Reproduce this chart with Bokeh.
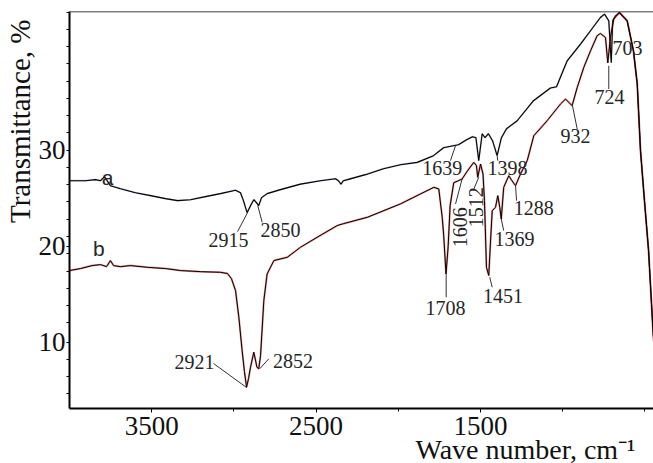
import math
from bokeh.plotting import figure
from bokeh.models import Range1d, FixedTicker, Span, Title
from bokeh.core.properties import value
from bokeh.embed import file_html
from bokeh.resources import INLINE

# ---- data (wave number, cm-1 / transmittance, %) ----
tail_wn = [655, 608, 570, 547, 527, 503, 478, 450, 436]
tail_t = [44.35, 43.49, 40.36, 36.93, 29.95, 24.74, 19.53, 10.89, 8.07]

a_wn = [4000, 3903, 3842, 3811, 3787, 3751, 3690, 3599, 3507, 3416, 3343, 3264, 3173, 3082,
        2990, 2960, 2942, 2920, 2899, 2879, 2863, 2849, 2832, 2798, 2717, 2595, 2473, 2382,
        2364, 2349, 2334, 2309, 2200, 2090, 1987, 1885, 1786, 1725, 1665, 1634, 1585, 1549,
        1528, 1511, 1490, 1473, 1452, 1427, 1399, 1373, 1342, 1277, 1178, 1075, 1038, 973,
        892, 831, 771, 746, 720, 705, 696, 679] + tail_wn
a_t = [26.82, 26.82, 26.93, 26.82, 27.24, 26.30, 25.99, 25.57, 25.26, 24.95, 24.74, 24.84,
       25.16, 25.47, 25.83, 25.57, 24.74, 23.49, 24.22, 24.84, 24.53, 24.22, 25.05, 25.47,
       25.89, 26.46, 26.82, 27.03, 26.82, 26.46, 26.82, 26.93, 27.45, 28.07, 28.49, 28.73,
       29.43, 30.26, 30.47, 30.57, 31.09, 31.41, 31.30, 28.91, 31.72, 31.30, 31.72, 30.99,
       29.43, 31.30, 32.24, 33.07, 35.16, 36.48, 36.61, 39.32, 41.06, 42.45, 43.83, 44.19,
       43.49, 39.11, 43.49, 44.01] + tail_t

b_wn = [4000, 3933, 3862, 3811, 3775, 3751, 3732, 3690, 3629, 3527, 3416, 3325, 3203, 3082,
        3039, 3015, 2990, 2970, 2950, 2936, 2923, 2911, 2899, 2879, 2860, 2849, 2838, 2818,
        2798, 2757, 2676, 2595, 2494, 2372, 2334, 2189, 1987, 1865, 1784, 1754, 1733, 1724,
        1710, 1697, 1685, 1663, 1634, 1612, 1579, 1541, 1525, 1517, 1500, 1485, 1476, 1464,
        1450, 1440, 1429, 1409, 1395, 1383, 1374, 1359, 1328, 1309, 1287, 1257, 1216, 1176,
        1095, 1014, 983, 943, 912, 872, 831, 791, 771, 740, 726, 710, 690] + tail_wn
b_t = [17.45, 17.66, 17.97, 18.07, 17.86, 18.49, 17.97, 17.86, 17.97, 17.79, 17.66, 17.45,
       17.34, 17.27, 17.14, 16.61, 15.36, 12.58, 9.11, 6.93, 5.29, 6.20, 7.38, 8.94, 7.38,
       7.21, 8.59, 14.32, 17.10, 18.49, 18.83, 19.88, 20.92, 22.14, 22.34, 23.00, 24.40,
       25.44, 26.13, 25.96, 23.00, 21.09, 17.10, 19.95, 24.22, 26.61, 26.82, 27.00, 27.86,
       28.73, 28.39, 27.17, 28.56, 27.52, 24.74, 17.79, 16.93, 20.23, 23.70, 24.04, 25.26,
       24.04, 22.83, 26.13, 27.34, 26.82, 26.30, 27.52, 28.91, 31.51, 33.07, 34.81, 35.33,
       34.64, 36.54, 38.63, 40.36, 41.93, 42.17, 41.75, 39.11, 41.75, 43.67] + tail_t

# peak labels (horizontal)
peak_text = ["2915", "2850", "2921", "2852", "1639", "1398", "1369", "1288", "1451", "1708",
             "932", "724", "703"]
peak_x = [3033, 2717, 3240, 2641, 1733, 1336, 1294, 1176, 1363, 1713, 922, 716, 606]
peak_y = [20.63, 21.72, 7.92, 8.07, 28.13, 28.13, 20.75, 23.96, 14.76, 13.59, 31.51, 35.57, 40.63]
# peak labels (vertical)
vpeak_text = ["1606", "1512"]
vpeak_x = [1622, 1526]
vpeak_y = [21.96, 24.04]
# leader lines
lead_x0 = [2978, 2828, 3124, 2788, 1683, 1399, 1652, 1545, 1359, 1281, 1444, 1709, 943, 720]
lead_y0 = [21.51, 22.48, 7.76, 8.25, 28.91, 29.43, 24.40, 25.78, 21.61, 24.74, 16.75, 17.10, 34.81, 38.80]
lead_x1 = [2917, 2855, 2923, 2843, 1652, 1395, 1612, 1511, 1374, 1287, 1429, 1709, 912, 720]
lead_y1 = [23.49, 24.22, 5.26, 7.21, 30.47, 28.91, 27.00, 27.17, 22.83, 26.30, 15.71, 14.67, 32.21, 36.38]

curve_names = ["a", "b"]
curve_lab_x = [3769, 3822]
curve_lab_y = [27.14, 19.71]

x_ticks = [3500, 2500, 1500]
x_minor = [3000, 2000, 1000, 500]
y_ticks = [10, 20, 30]
y_minor = [44.4, 42.6, 40.8, 39.0, 37.2, 35.4, 33.6, 31.8, 28.2, 26.4, 24.6, 22.8, 21.0,
           19.2, 17.4, 15.6, 13.8, 12.0, 8.2, 6.4, 4.6]

SERIF = "Liberation Serif"

p = figure(width=653, height=463, x_range=Range1d(4000, 448), y_range=Range1d(3.07, 44.46),
           output_backend="svg", toolbar_location=None,
           min_border_left=69, min_border_right=0, min_border_top=11, min_border_bottom=55)
p.grid.visible = False
p.outline_line_color = None
p.background_fill_color = "white"
p.border_fill_color = "white"

for ax, tk, mn in ((p.xaxis[0], x_ticks, x_minor), (p.yaxis[0], y_ticks, y_minor)):
    ax.ticker = FixedTicker(ticks=tk, minor_ticks=mn)
    ax.axis_line_width = 2
    ax.axis_line_color = "black"
    ax.major_tick_in = 0
    ax.minor_tick_in = 0
    ax.major_tick_line_color = "black"
    ax.minor_tick_line_color = "black"
    ax.major_label_text_font = SERIF
    ax.major_label_text_font_size = "27px"
    ax.major_label_text_color = "#111111"
p.xaxis.major_tick_out = 4
p.xaxis.minor_tick_out = 3
p.xaxis.major_label_standoff = 4
p.yaxis.major_tick_out = 3
p.yaxis.minor_tick_out = 3
p.yaxis.major_label_standoff = 1

p.add_layout(Span(location=44.46, dimension="width", line_color="black", line_width=1.5))

# curves
p.line(a_wn, a_t, line_color="#1f2a55", line_width=1.8, line_alpha=0.3)
p.line(a_wn, a_t, line_color="black", line_width=1.1)
p.line(b_wn, b_t, line_color="#cc1111", line_width=2.0, line_alpha=0.45)
p.line(b_wn, b_t, line_color="black", line_width=1.0)

# leaders and labels
p.segment(lead_x0, lead_y0, lead_x1, lead_y1, line_color="#333333", line_width=1)
p.text(peak_x, peak_y, text=peak_text, text_font=value(SERIF), text_font_size="20px",
       text_align="center", text_baseline="middle", text_color="#262626")
p.text(vpeak_x, vpeak_y, text=vpeak_text, angle=math.pi / 2, text_font=value(SERIF),
       text_font_size="20px", text_align="center", text_baseline="middle", text_color="#262626")
p.text(curve_lab_x, curve_lab_y, text=curve_names, text_font=value("Liberation Sans"),
       text_font_size="21px", text_align="center", text_baseline="middle", text_color="#262626")

# axis titles
p.add_layout(Title(text="Transmittance, %", align="right", vertical_align="bottom", offset=8,
                   standoff=0, text_font=SERIF, text_font_size="29px",
                   text_font_style="normal", text_color="#111111"), "left")
p.add_layout(Title(text="Wave number, cm\u207b\u00b9", align="right", vertical_align="top",
                   offset=18, standoff=-8, text_font=SERIF, text_font_size="28px",
                   text_font_style="normal", text_color="#111111"), "below")

open("out.html", "w").write(file_html(p, INLINE))
